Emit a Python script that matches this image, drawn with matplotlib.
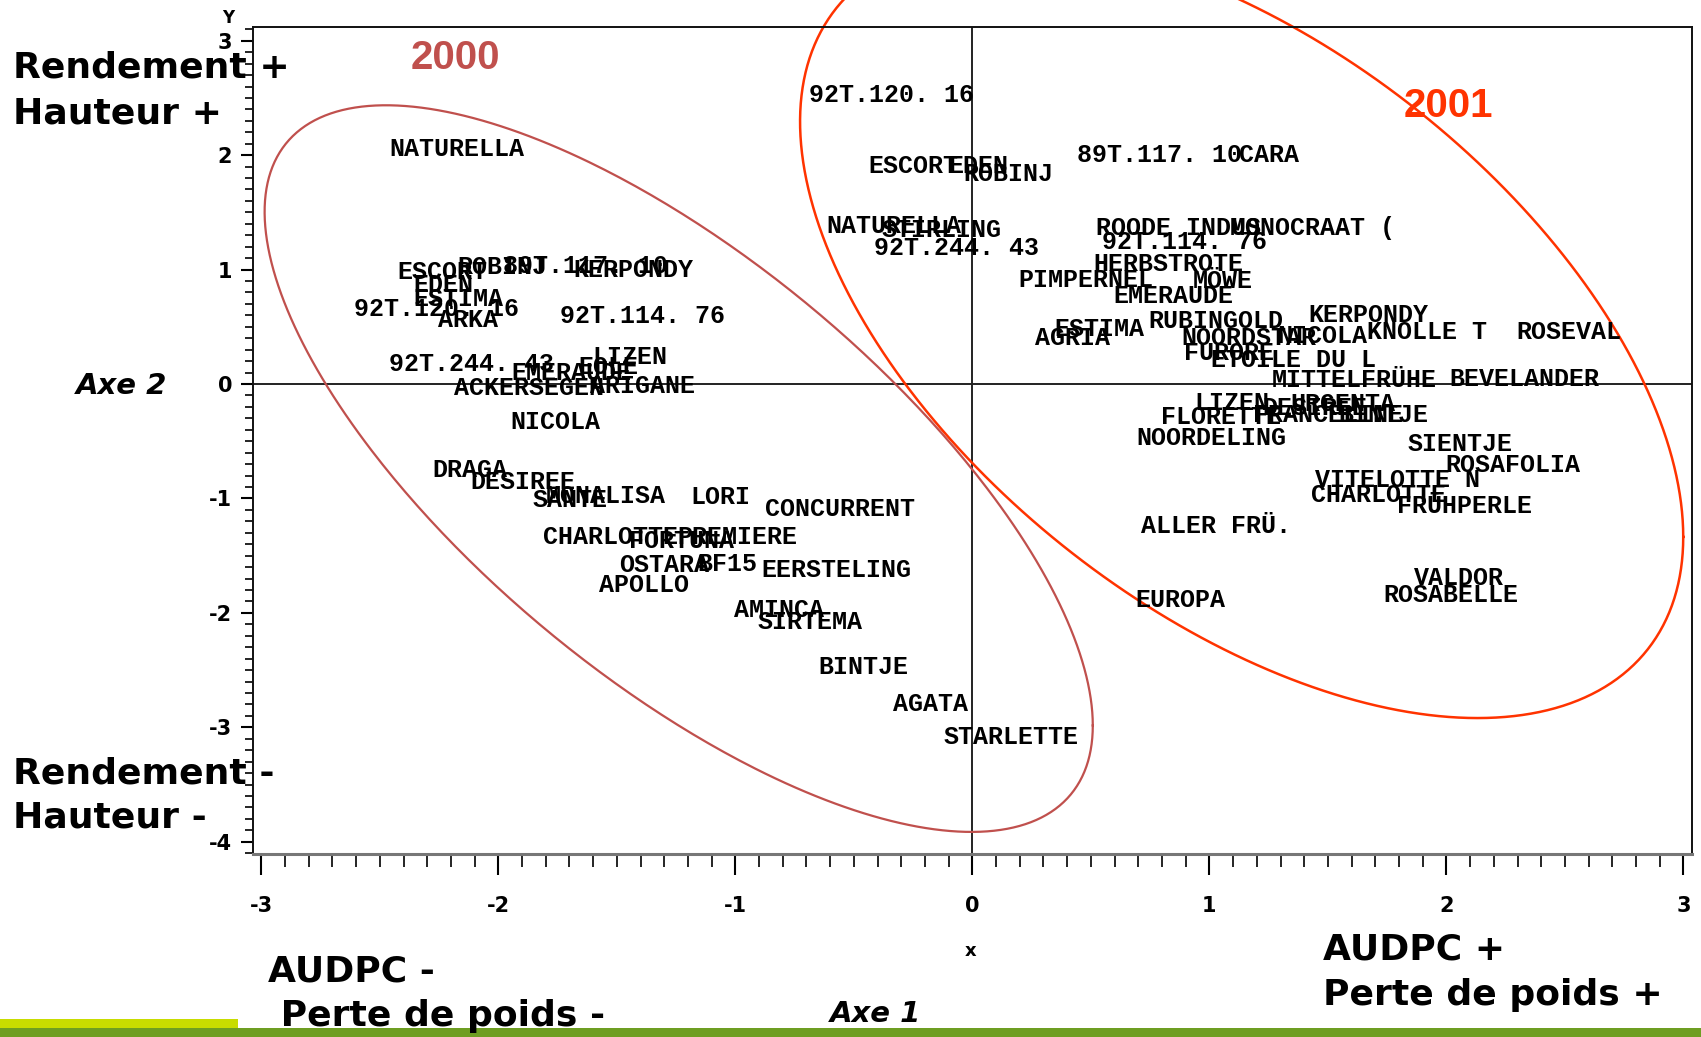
import numpy as np
import matplotlib
matplotlib.use("Agg")
import matplotlib.pyplot as plt
from matplotlib.ticker import MultipleLocator
from matplotlib.patches import Rectangle

plt.rcParams["axes.unicode_minus"] = False

# label positions (axe 1, axe 2), year 2000
names_2000 = ["NATURELLA", "ESCORT", "ROBINJ", "89T.117. 10", "KERPONDY", "EDEN",
              "ESTIMA", "92T.120. 16", "ARKA", "92T.114. 76", "92T.244. 43",
              "EMERAUDE", "EOLE", "LIZEN", "ACKERSEGEN", "ARIGANE", "NICOLA",
              "DRAGA", "DESIREE", "SANTE", "MONALISA", "LORI", "CONCURRENT",
              "CHARLOTTE", "PREMIERE", "FORTUNA", "OSTARA", "BF15", "EERSTELING",
              "APOLLO", "AMINCA", "SIRTEMA", "BINTJE", "AGATA", "STARLETTE"]
x_2000 = [-2.460, -2.428, -2.172, -1.980, -1.683, -2.359, -2.359, -2.611, -2.254,
          -1.738, -2.460, -1.943, -1.664, -1.605, -2.186, -1.614, -1.948, -2.277,
          -2.117, -1.856, -1.802, -1.189, -0.873, -1.811, -1.244, -1.449, -1.491,
          -1.161, -0.892, -1.577, -1.006, -0.905, -0.649, -0.334, -0.123]
y_2000 = [2.057, 0.976, 1.024, 1.033, 0.995, 0.863, 0.739, 0.654, 0.559, 0.597,
          0.171, 0.095, 0.152, 0.237, -0.038, -0.019, -0.332, -0.749, -0.853,
          -1.014, -0.976, -0.986, -1.090, -1.336, -1.336, -1.374, -1.583, -1.573,
          -1.621, -1.754, -1.972, -2.076, -2.474, -2.796, -3.081]

# year 2001
names_2001 = ["92T.120. 16", "ESCORT", "EDEN", "ROBINJ", "89T.117. 10", "CARA",
              "NATURELLA", "STIRLING", "92T.244. 43", "ROODE INDUS", "92T.114. 76",
              "MONOCRAAT (", "HERBSTROTE", "PIMPERNEL", "MÖWE", "EMERAUDE", "ESTIMA",
              "AGRIA", "RUBINGOLD", "KERPONDY", "NOORDSTAR", "NICOLA", "KNOLLE T",
              "ROSEVAL", "FURORE", "ETOILE DU L", "MITTELFRÜHE", "BEVELANDER",
              "LIZEN", "DESIREE", "URGENTA", "FLORETTE", "FRANCELINE", "BINTJE",
              "NOORDELING", "SIENTJE", "ROSAFOLIA", "VITELOTTE N", "CHARLOTTE",
              "FRÜHPERLE", "ALLER FRÜ.", "EUROPA", "VALDOR", "ROSABELLE"]
x_2001 = [-0.688, -0.439, -0.101, -0.037, 0.441, 1.125, -0.615, -0.384, -0.414,
          0.521, 0.546, 1.088, 0.512, 0.192, 0.931, 0.594, 0.348, 0.263, 0.741,
          1.417, 0.881, 1.285, 1.664, 2.293, 0.892, 1.006, 1.265, 2.012, 0.936,
          1.225, 1.340, 0.796, 1.184, 1.545, 0.690, 1.834, 1.994, 1.445, 1.429,
          1.790, 0.713, 0.689, 1.863, 1.735]
y_2001 = [2.525, 1.905, 1.905, 1.839, 2.000, 2.000, 1.384, 1.346, 1.185, 1.360,
          1.244, 1.360, 1.048, 0.910, 0.903, 0.768, 0.480, 0.398, 0.550, 0.603,
          0.398, 0.417, 0.455, 0.458, 0.268, 0.209, 0.035, 0.041, -0.169, -0.209,
          -0.171, -0.284, -0.275, -0.275, -0.474, -0.521, -0.708, -0.839, -0.970,
          -1.065, -1.242, -1.886, -1.697, -1.844]

# ellipses: centre, half width, half height, x offset of the top point
ell_2000 = dict(cx=-1.239, cy=-0.739, w=1.747, h=3.175, top_dx=-1.235)
ell_2001 = dict(cx=1.136, cy=0.479, w=1.863, h=3.398, top_dx=-0.995)

C2000 = "#c0504d"
C2001 = "#ff3300"
W, H = 1701, 1037


def ellipse_xy(cx, cy, w, h, top_dx):
    t = np.linspace(0, 2 * np.pi, 500)
    r = top_dx * h / w
    s = np.sqrt(h ** 2 - r ** 2)
    return cx + w * np.cos(t), cy + r * np.cos(t) + s * np.sin(t)


fig = plt.figure(figsize=(W / 100, H / 100), dpi=100)
ax = fig.add_axes([253 / W, 1 - 854 / H, (1692 - 253) / W, (854 - 27) / H])
ax.set_xlim(-3.035, 3.036)
ax.set_ylim(-4.107, 3.12)

ax.axhline(0, color="#222222", lw=1.4, zorder=1)
ax.axvline(0, color="#222222", lw=1.4, zorder=1)

lab_font = dict(family=["Liberation Mono", "DejaVu Sans Mono"], fontsize=18,
                fontweight="bold", color="black", ha="left", va="center")
for n, x, y in zip(names_2000, x_2000, y_2000):
    ax.text(x, y, n, **lab_font)
for n, x, y in zip(names_2001, x_2001, y_2001):
    ax.text(x, y, n, **lab_font)

ex, ey = ellipse_xy(**ell_2000)
ax.plot(ex, ey, color=C2000, lw=1.6)
ex, ey = ellipse_xy(**ell_2001)
ax.plot(ex, ey, color=C2001, lw=1.8, clip_on=False)

for sp in ax.spines.values():
    sp.set_linewidth(1.4)
    sp.set_color("#111111")
ax.spines["bottom"].set_color("#777777")
ax.spines["bottom"].set_linewidth(2.2)

ax.set_xticks(range(-3, 4))
ax.set_yticks(range(-4, 4))
ax.xaxis.set_minor_locator(MultipleLocator(0.1))
ax.yaxis.set_minor_locator(MultipleLocator(0.1))
ax.tick_params(axis="x", which="major", length=15, width=1.5, pad=15, direction="out")
ax.tick_params(axis="x", which="minor", length=9, width=1.2, direction="out")
ax.tick_params(axis="y", which="major", length=9, width=1.5, pad=6, direction="out")
ax.tick_params(axis="y", which="minor", length=6, width=1.2, direction="out")
tick_font = ["Liberation Sans Narrow", "DejaVu Sans"]
for lab in ax.get_xticklabels() + ax.get_yticklabels():
    lab.set_family(tick_font)
    lab.set_fontweight("bold")
    lab.set_fontsize(15)

fig.text(228 / W, 1 - 18 / H, "Y", fontsize=12, fontweight="bold", ha="center", va="center",
         family=tick_font)
fig.text(971 / W, 1 - 951 / H, "x", fontsize=13, fontweight="bold", ha="center", va="center",
         family=tick_font)

big = dict(fontsize=26, fontweight="bold", family="DejaVu Sans", ha="left", va="center")
fig.text(13 / W, 1 - 68 / H, "Rendement +", **big)
fig.text(13 / W, 1 - 113 / H, "Hauteur +", **big)
fig.text(13 / W, 1 - 773 / H, "Rendement -", **big)
fig.text(13 / W, 1 - 818 / H, "Hauteur -", **big)
fig.text(268 / W, 1 - 971 / H, "AUDPC -", **big)
fig.text(268 / W, 1 - 1016 / H, " Perte de poids -", **big)
fig.text(1323 / W, 1 - 950 / H, "AUDPC +", **big)
fig.text(1323 / W, 1 - 995 / H, "Perte de poids +", **big)

axe = dict(fontsize=21, fontweight="bold", style="italic", family="DejaVu Sans",
           ha="left", va="center")
fig.text(76 / W, 1 - 386 / H, "Axe 2", **axe)
fig.text(830 / W, 1 - 1014 / H, "Axe 1", **axe)

yr = dict(fontsize=29, fontweight="bold", family=["Liberation Sans", "DejaVu Sans"],
          ha="left", va="center")
fig.text(411 / W, 1 - 58 / H, "2000", color=C2000, **yr)
fig.text(1404 / W, 1 - 106 / H, "2001", color=C2001, **yr)

fig.add_artist(Rectangle((0, 0), 1, 9 / H, transform=fig.transFigure,
                         color="#6e9e22", lw=0))
fig.add_artist(Rectangle((0, 9 / H), 238 / W, 9 / H, transform=fig.transFigure,
                         color="#c8dc00", lw=0))

fig.savefig("out.png", dpi=100)
